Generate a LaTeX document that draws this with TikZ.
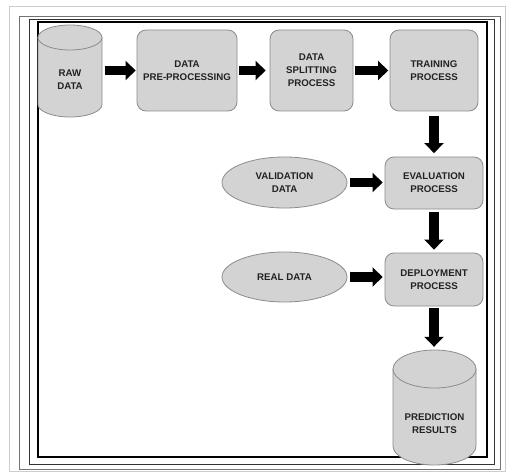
\documentclass[tikz,border=0pt]{standalone}
\usepackage{fontspec}
\setmainfont{Liberation Sans}
\usetikzlibrary{arrows.meta,shapes.geometric}
\definecolor{boxfill}{HTML}{D3D3D3}
\definecolor{boxline}{HTML}{8C8C8C}
\definecolor{txt}{HTML}{222222}
\begin{document}
\begin{tikzpicture}[x=1pt,y=-1pt,
  lbl/.style={font=\bfseries\fontsize{9.7}{13}\selectfont, text=txt, align=center},
  proc/.style={lbl, draw=boxline, fill=boxfill, line width=0.8pt, rounded corners=9pt, inner sep=0pt},
  oval/.style={lbl, draw=boxline, fill=boxfill, line width=0.8pt, ellipse, inner sep=0pt},
  flow/.style={draw=black, line width=9.5pt, -{Triangle[length=10pt,width=19pt]}},
  cyl/.style={draw=boxline, fill=boxfill, line width=0.8pt},
  frame/.style={draw=black, line width=1.3pt},
  frame2/.style={draw=black!80, line width=0.9pt},
  frame3/.style={draw=black!55, line width=0.8pt},
  frame4/.style={draw=black!20, line width=0.7pt}]
\useasboundingbox (0,0) rectangle (511,473);
\fill[white] (0,0) rectangle (511,473);
% frames
\draw[frame4] (9,6) rectangle (505,471);
\draw[frame3] (19,16) rectangle (500,469);
\draw[frame2] (29,19) rectangle (494,464);
\draw[frame] (38,22) rectangle (487,457);
% raw data cylinder
\path[cyl] (38,37.5) -- (38,104.5) arc[start angle=180,end angle=360,x radius=32pt,y radius=12.5pt] -- (102,37.5) -- cycle;
\path[cyl] (70,37.5) ellipse[x radius=32pt,y radius=12.5pt];
\node[lbl, minimum width=64pt, minimum height=92pt] (raw) at (70,71) {};
\node[lbl] at (70,80) {RAW\\DATA};
% prediction cylinder
\path[cyl] (393,369) -- (393,446) arc[start angle=180,end angle=360,x radius=41.5pt,y radius=19pt] -- (476,369) -- cycle;
\path[cyl] (434.5,369) ellipse[x radius=41.5pt,y radius=19pt];
\node[lbl, minimum width=83pt, minimum height=115pt] (pred) at (434.5,407.5) {};
\node[lbl] at (434.5,424) {PREDICTION\\RESULTS};
% process boxes
\node[proc, minimum width=100pt, minimum height=81pt] (pre) at (187,70.5) {DATA\\PRE-PROCESSING};
\node[proc, minimum width=83pt, minimum height=81pt] (split) at (311.5,70.5) {DATA\\SPLITTING\\PROCESS};
\node[proc, minimum width=88pt, minimum height=81pt] (train) at (434,70.5) {TRAINING\\PROCESS};
\node[proc, minimum width=98pt, minimum height=52pt] (eval) at (434,183) {EVALUATION\\PROCESS};
\node[proc, minimum width=98pt, minimum height=53pt] (deploy) at (434,279.5) {DEPLOYMENT\\PROCESS};
% ellipses
\node[oval, minimum width=125pt, minimum height=51pt] (valid) at (284.5,182.5) {VALIDATION\\DATA};
\node[oval, minimum width=125pt, minimum height=50pt] (real) at (284.5,277) {REAL DATA};
% arrows
\draw[flow, shorten <=2.5pt, shorten >=1pt] (raw.east |- pre.west) -- (pre.west);
\draw[flow, shorten <=2pt, shorten >=4pt] (pre.east) -- (split.west);
\draw[flow, shorten <=2pt, shorten >=1.5pt] (split.east) -- (train.west);
\draw[flow, shorten <=5pt, shorten >=3.5pt] (train.south) -- (eval.north);
\draw[flow, shorten <=3pt, shorten >=2pt] (valid.east) -- (valid.east -| eval.west);
\draw[flow, shorten <=3pt, shorten >=3pt] (eval.south) -- (deploy.north);
\draw[flow, shorten <=3pt, shorten >=2pt] (real.east) -- (real.east -| deploy.west);
\draw[flow, shorten <=2pt, shorten >=3pt] (deploy.south) -- (deploy.south |- pred.north);
\end{tikzpicture}
\end{document}
